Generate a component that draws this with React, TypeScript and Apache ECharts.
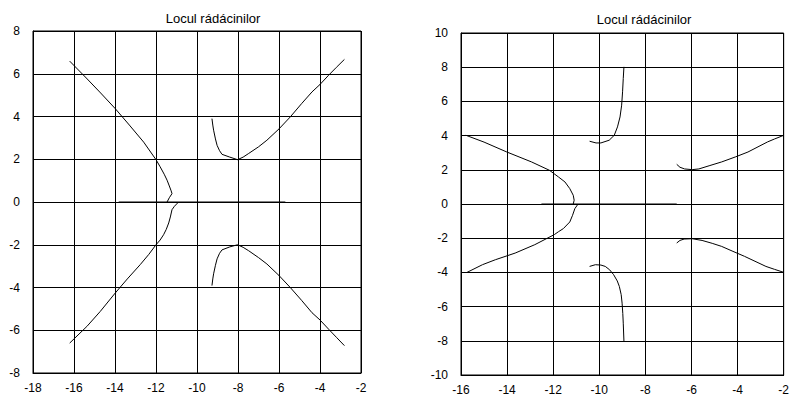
import React, { useEffect, useRef } from "react";
import * as echarts from "echarts";

const titleText = "Locul rádácinilor";

// Left chart
const leftXTicks = { min: -18, max: -2, interval: 2 };
const leftYTicks = { min: -8, max: 8, interval: 2 };
const leftReal: number[][] = [[-13.82, 0], [-5.69, 0]];
const leftUpperLeft: number[][] = [
  [-16.21, 6.59], [-15.4, 5.8], [-14.7, 5.1], [-13.99, 4.37], [-13.3, 3.6],
  [-12.6, 2.8], [-12.0, 1.98], [-11.8, 1.65], [-11.6, 1.3], [-11.46, 1.02],
  [-11.35, 0.75], [-11.26, 0.52], [-11.22, 0.39], [-11.35, 0.2], [-11.46, 0],
];
const leftLowerLeft: number[][] = [
  [-10.9, 0], [-11.1, -0.2], [-11.22, -0.36], [-11.3, -0.7], [-11.38, -0.98],
  [-11.5, -1.28], [-11.63, -1.53], [-11.8, -1.78], [-12.0, -2.0], [-12.35, -2.45],
  [-12.77, -2.93], [-13.4, -3.6], [-13.99, -4.26], [-14.72, -5.12], [-15.37, -5.82],
  [-16.21, -6.6],
];
const leftUpperRight: number[][] = [
  [-9.27, 3.9], [-9.23, 3.6], [-9.19, 3.36], [-9.1, 2.95], [-9.02, 2.65],
  [-8.9, 2.4], [-8.78, 2.23], [-8.4, 2.1], [-8.02, 1.98], [-7.75, 2.1],
  [-7.48, 2.27], [-7.0, 2.58], [-6.59, 2.89], [-6.0, 3.42], [-5.45, 3.98],
  [-4.9, 4.6], [-4.39, 5.15], [-4.0, 5.5], [-3.58, 5.93], [-3.2, 6.3], [-2.81, 6.67],
];
const leftLowerRight: number[][] = [
  [-9.27, -3.91], [-9.23, -3.6], [-9.19, -3.36], [-9.1, -2.96], [-9.02, -2.66],
  [-8.9, -2.4], [-8.78, -2.24], [-8.4, -2.1], [-8.02, -2.0], [-7.75, -2.12],
  [-7.48, -2.28], [-7.0, -2.6], [-6.59, -2.9], [-6.0, -3.44], [-5.45, -4.0],
  [-4.9, -4.6], [-4.39, -5.18], [-4.0, -5.52], [-3.58, -5.95], [-3.2, -6.33], [-2.81, -6.72],
];

// Right chart
const rightXTicks = { min: -16, max: -2, interval: 2 };
const rightYTicks = { min: -10, max: 10, interval: 2 };
const rightReal: number[][] = [[-12.51, 0], [-6.64, 0]];
const rightUpperLeft: number[][] = [
  [-15.79, 4.02], [-15.0, 3.62], [-14.01, 3.04], [-12.94, 2.46], [-12.16, 1.97],
  [-11.77, 1.58], [-11.49, 1.29], [-11.28, 0.9], [-11.13, 0.51], [-11.09, 0.22],
  [-11.13, 0],
];
const rightLowerLeft: number[][] = [
  [-10.92, 0], [-11.06, -0.27], [-11.16, -0.66], [-11.28, -1.05], [-11.56, -1.44],
  [-11.77, -1.62], [-11.95, -1.79], [-12.8, -2.38], [-13.65, -2.87], [-14.51, -3.26],
  [-15.07, -3.55], [-15.74, -4.0],
];
const rightUpperMid: number[][] = [
  [-10.42, 3.67], [-10.14, 3.57], [-9.93, 3.57], [-9.57, 3.73], [-9.35, 4.02],
  [-9.21, 4.51], [-9.1, 5.09], [-9.03, 5.78], [-8.99, 6.56], [-8.96, 7.34],
  [-8.93, 8.02],
];
const rightLowerMid: number[][] = [
  [-10.42, -3.65], [-10.17, -3.55], [-9.93, -3.57], [-9.74, -3.65], [-9.55, -3.85],
  [-9.38, -4.13], [-9.22, -4.5], [-9.13, -4.82], [-9.05, -5.3], [-9.01, -5.8],
  [-8.98, -6.4], [-8.96, -6.97], [-8.93, -8.04],
];
const rightUpperRight: number[][] = [
  [-6.64, 2.32], [-6.5, 2.15], [-6.3, 2.05], [-5.97, 2.01], [-5.68, 2.05],
  [-5.2, 2.25], [-4.69, 2.46], [-4.1, 2.75], [-3.55, 3.04], [-2.7, 3.63],
  [-2.4, 3.8], [-1.99, 4.02],
];
const rightLowerRight: number[][] = [
  [-6.64, -2.28], [-6.5, -2.13], [-6.32, -2.05], [-5.97, -2.03], [-5.54, -2.13],
  [-5.1, -2.3], [-4.69, -2.48], [-4.2, -2.77], [-3.7, -3.06], [-2.77, -3.65],
  [-2.4, -3.82], [-1.99, -4.0],
];

const FONT = "'Liberation Sans', Arial, sans-serif";

function axisCommon(min: number, max: number, interval: number, gridIndex: number, isX: boolean) {
  return {
    type: "value" as const,
    gridIndex,
    min,
    max,
    interval,
    axisLine: { show: true, onZero: false, lineStyle: { color: "#000", width: 1 } },
    axisTick: { show: false },
    splitLine: { show: true, lineStyle: { color: "#000", width: 1 } },
    axisLabel: {
      color: "#000",
      fontFamily: FONT,
      fontSize: 12,
      margin: isX ? 9 : 13,
    },
  };
}

function lineSeries(data: number[][], idx: number) {
  return {
    type: "line" as const,
    xAxisIndex: idx,
    yAxisIndex: idx,
    data,
    showSymbol: false,
    symbol: "none",
    smooth: false,
    lineStyle: { color: "#000", width: 1 },
    silent: true,
  };
}

export default function App() {
  const ref = useRef<HTMLDivElement>(null);
  useEffect(() => {
    if (!ref.current) return;
    const chart = echarts.init(ref.current, undefined, { renderer: "svg" });
    chart.setOption({
      animation: false,
      backgroundColor: "#fff",
      title: [
        {
          text: titleText,
          left: 208,
          top: 7,
          textAlign: "center",
          textStyle: { fontFamily: FONT, fontSize: 13, fontWeight: "normal", color: "#000" },
        },
        {
          text: titleText,
          left: 639,
          top: 8,
          textAlign: "center",
          textStyle: { fontFamily: FONT, fontSize: 13, fontWeight: "normal", color: "#000" },
        },
      ],
      grid: [
        { left: 33, right: 431, top: 31, bottom: 23, show: true, borderColor: "#000", borderWidth: 1, backgroundColor: "transparent" },
        { left: 461, right: 3, top: 33, bottom: 21, show: true, borderColor: "#000", borderWidth: 1, backgroundColor: "transparent" },
      ],
      xAxis: [
        axisCommon(leftXTicks.min, leftXTicks.max, leftXTicks.interval, 0, true),
        axisCommon(rightXTicks.min, rightXTicks.max, rightXTicks.interval, 1, true),
      ],
      yAxis: [
        axisCommon(leftYTicks.min, leftYTicks.max, leftYTicks.interval, 0, false),
        axisCommon(rightYTicks.min, rightYTicks.max, rightYTicks.interval, 1, false),
      ],
      series: [
        lineSeries(leftReal, 0),
        lineSeries(leftUpperLeft, 0),
        lineSeries(leftLowerLeft, 0),
        lineSeries(leftUpperRight, 0),
        lineSeries(leftLowerRight, 0),
        lineSeries(rightReal, 1),
        lineSeries(rightUpperLeft, 1),
        lineSeries(rightLowerLeft, 1),
        lineSeries(rightUpperMid, 1),
        lineSeries(rightLowerMid, 1),
        lineSeries(rightUpperRight, 1),
        lineSeries(rightLowerRight, 1),
      ],
    });
    return () => chart.dispose();
  }, []);
  return (
    <div
      ref={ref}
      style={{ position: "fixed", left: 0, top: 0, width: 792, height: 396 }}
    />
  );
}
